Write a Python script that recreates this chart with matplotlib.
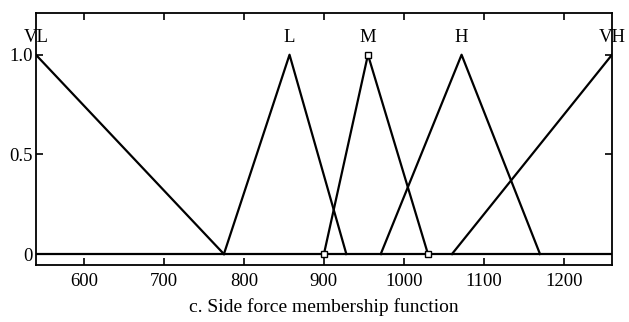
"""
Side force membership function (fuzzy sets VL, L, M, H, VH)
"""
import matplotlib
matplotlib.use('Agg')
import matplotlib.pyplot as plt

# ── datos ────────────────────────────────────────────────────────────────
set_names = ['VL', 'L', 'M', 'H', 'VH']
vl_x, vl_y = [540, 775], [1, 0]
l_x, l_y = [775, 857, 928], [0, 1, 0]
m_x, m_y = [900, 955, 1030], [0, 1, 0]
h_x, h_y = [971, 1072, 1170], [0, 1, 0]
vh_x, vh_y = [1060, 1260], [0, 1]
label_x = [540, 857, 955, 1072, 1260]

x_ticks = [600, 700, 800, 900, 1000, 1100, 1200]
y_ticks = [0, 0.5, 1.0]
y_ticklabels = ['0', '0.5', '1.0']
caption = 'c. Side force membership function'

# ── figura ───────────────────────────────────────────────────────────────
plt.rcParams['font.family'] = ['Liberation Serif', 'DejaVu Serif']

fig = plt.figure(figsize=(6.29, 3.22), dpi=100)
ax = fig.add_axes([0.057, 0.177, 0.916, 0.783])

lw = 1.6
ax.plot([540, 1260], [0, 0], color='black', linewidth=lw)
ax.plot(vl_x, vl_y, color='black', linewidth=lw)
ax.plot(l_x, l_y, color='black', linewidth=lw)
ax.plot(m_x, m_y, color='black', linewidth=lw, marker='s',
        markersize=4.5, markerfacecolor='white', markeredgewidth=1.0)
ax.plot(h_x, h_y, color='black', linewidth=lw)
ax.plot(vh_x, vh_y, color='black', linewidth=lw)

for name, xpos in zip(set_names, label_x):
    ax.text(xpos, 1.085, name, ha='center', va='center', fontsize=13.5)

ax.set_xlim(540, 1260)
ax.set_ylim(-0.055, 1.21)
ax.set_xticks(x_ticks)
ax.set_yticks(y_ticks)
ax.set_yticklabels(y_ticklabels)
ax.tick_params(axis='both', direction='in', length=5, width=1.2,
               labelsize=13.5, top=True, right=True)
ax.tick_params(axis='x', pad=6)
ax.tick_params(axis='y', pad=2)
for sp in ax.spines.values():
    sp.set_linewidth(1.3)

# pie de figura centrado bajo el eje
fig.text(0.515, 0.045, caption, ha='center', va='center', fontsize=14)

fig.savefig('out.png', dpi=100)
plt.close(fig)
